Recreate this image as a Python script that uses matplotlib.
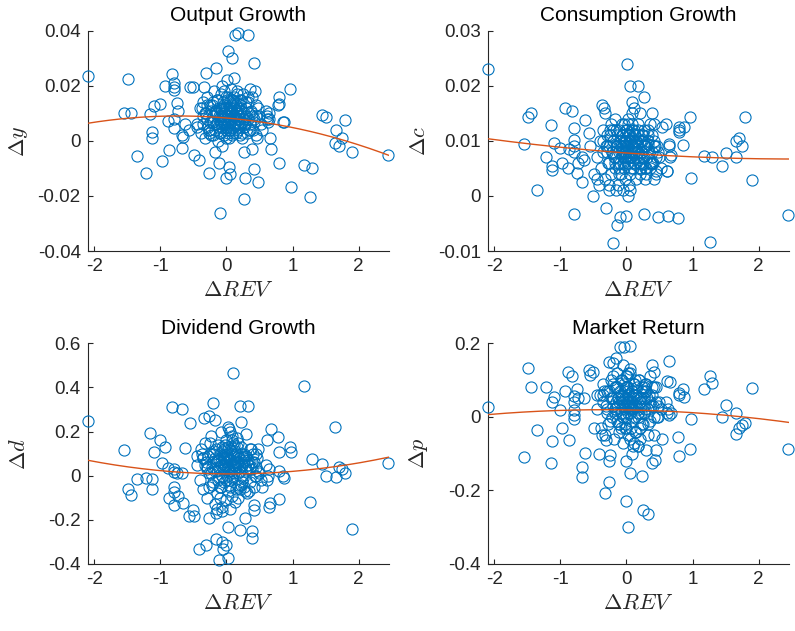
import numpy as np
import matplotlib
matplotlib.use('Agg')
import matplotlib.pyplot as plt

plt.rcParams['font.family'] = ['Liberation Sans', 'DejaVu Sans']
plt.rcParams['mathtext.fontset'] = 'cm'

# shared regressor (outlying points, then the dense core)
rev_outer = [-2.10, -1.55, -1.49, -1.44, -1.36, -1.22, -1.15, -1.13, -1.12, -1.10,
             -1.00, -0.97, -0.93, -0.88, -0.87, -0.82, -0.80, -0.80, -0.80, -0.80,
             -0.79, -0.75, -0.73, -0.68, -0.67, -0.65, -0.63, -0.56, -0.55, -0.51,
             -0.49, -0.45, -0.41, -0.37, -0.34, -0.32, -0.31, -0.27, -0.26, -0.25,
             -0.20, -0.17, -0.16, -0.14, -0.12, -0.10, -0.07, -0.05, -0.04, 0.00,
             0.00, 0.005, 0.02, 0.03, 0.04, 0.05, 0.06, 0.06, 0.08, 0.10,
             0.13, 0.17, 0.18, 0.20, 0.20, 0.22, 0.23, 0.25, 0.26, 0.27,
             0.28, 0.32, 0.33, 0.38, 0.38, 0.41, 0.42, 0.43, 0.45, 0.47,
             0.48, 0.54, 0.60, 0.61, 0.62, 0.63, 0.64, 0.65, 0.66, 0.67,
             0.78, 0.79, 0.79, 0.80, 0.85, 0.87, 0.96, 0.97, 1.18, 1.27,
             1.29, 1.45, 1.51, 1.65, 1.66, 1.71, 1.75, 1.79, 1.90, 2.44]
rev_core = [-0.44, -0.40, -0.38, -0.36, -0.35, -0.33, -0.30, -0.29, -0.28, -0.24,
            -0.23, -0.22, -0.21, -0.19, -0.18, -0.17, -0.15, -0.14, -0.13, -0.12,
            -0.11, -0.10, -0.09, -0.08, -0.08, -0.07, -0.06, -0.05, -0.04, -0.03,
            -0.03, -0.02, -0.01, 0.00, 0.01, 0.01, 0.02, 0.03, 0.04, 0.05,
            0.06, 0.07, 0.08, 0.09, 0.10, 0.11, 0.12, 0.13, 0.14, 0.15,
            0.16, 0.17, 0.19, 0.20, 0.21, 0.22, 0.24, 0.25, 0.27, 0.29,
            0.30, 0.31, 0.33, 0.35, 0.36, 0.38, 0.40, 0.42, 0.44, 0.46,
            0.49, 0.52, -0.26, -0.16, 0.02, 0.12, -0.06, 0.08, 0.18, 0.28]
rev_core2 = [-0.31, -0.27, -0.25, -0.22, -0.20, -0.18, -0.16, -0.14, -0.12, -0.10,
             -0.09, -0.07, -0.06, -0.05, -0.04, -0.02, -0.01, 0.00, 0.01, 0.02,
             0.03, 0.04, 0.05, 0.06, 0.07, 0.08, 0.09, 0.10, 0.11, 0.12,
             0.13, 0.14, 0.15, 0.16, 0.18, 0.19, 0.21, 0.23, 0.24, 0.26,
             0.28, 0.30, 0.32, 0.34, 0.37, 0.39, 0.41, 0.44, -0.35, -0.29,
             -0.21, -0.13, -0.03, 0.03, 0.07, 0.11, 0.17, 0.22, 0.27, 0.35]

dy_outer = [0.0235, 0.0100, 0.0225, 0.0100, -0.0054, -0.0118, 0.0097, 0.0033, 0.0011, 0.0128,
            0.0134, -0.0072, 0.0200, 0.0073, -0.0034, 0.0243, 0.0210, 0.0195, 0.0185, 0.0081,
            0.0045, 0.0136, 0.0110, -0.0027, 0.0020, 0.0015, 0.0060, 0.0040, 0.0197, 0.0195,
            -0.0050, 0.0050, -0.0070, 0.0120, 0.0195, 0.0100, 0.0247, 0.0030, -0.0116, 0.0070,
            0.0140, -0.0040, 0.0263, 0.0100, -0.0082, -0.0263, 0.0080, 0.0120, 0.0060, -0.0136,
            0.0050, 0.0150, 0.0327, 0.0100, -0.0094, -0.0120, 0.0120, 0.0040, 0.0300, 0.0090,
            0.0384, 0.0392, 0.0120, 0.0060, 0.0100, 0.0150, 0.0030, 0.0080, -0.0040, -0.0210,
            -0.0136, 0.0384, 0.0160, 0.0090, -0.0030, 0.0284, -0.0103, 0.0180, 0.0020, 0.0120,
            -0.0150, 0.0040, 0.0110, 0.0080, 0.0090, 0.0070, 0.0100, 0.0080, 0.0010, -0.0028,
            0.0130, -0.0082, 0.0158, 0.0134, 0.0070, 0.0070, 0.0187, -0.0167, -0.0086, -0.0203,
            -0.0100, 0.0094, 0.0085, -0.0007, 0.0040, -0.0017, 0.0010, 0.0076, -0.0039, -0.0051]
dy_core = [0.006, 0.012, 0.003, 0.009, 0.014, 0.001, 0.008, 0.016, 0.005, 0.011,
           0.002, 0.013, 0.007, 0.018, 0.004, 0.010, 0.006, 0.015, 0.000, 0.009,
           0.012, 0.003, 0.017, 0.007, 0.011, 0.005, 0.020, 0.008, 0.002, 0.013,
           0.010, 0.006, 0.016, 0.004, 0.009, 0.022, 0.007, 0.012, 0.001, 0.014,
           0.008, 0.019, 0.005, 0.011, 0.003, 0.016, 0.009, 0.006, 0.013, 0.010,
           0.018, 0.004, 0.008, 0.015, 0.002, 0.011, 0.007, 0.017, 0.005, 0.012,
           0.009, 0.003, 0.014, 0.006, 0.019, 0.010, 0.004, 0.008, 0.013, 0.001,
           0.009, 0.006, 0.004, 0.011, 0.007, 0.023, -0.002, 0.015, 0.010, 0.006]
dy_core2 = [0.010, 0.004, 0.013, 0.007, 0.002, 0.011, 0.006, 0.015, 0.008, 0.003,
            0.012, 0.009, 0.005, 0.014, 0.007, 0.010, 0.001, 0.012, 0.006, 0.016,
            0.009, 0.004, 0.011, 0.007, 0.013, 0.002, 0.010, 0.015, 0.006, 0.012,
            0.008, 0.003, 0.011, 0.017, 0.005, 0.009, 0.013, 0.007, 0.001, 0.010,
            0.006, 0.014, 0.008, 0.004, 0.011, 0.016, 0.007, 0.009, 0.006, 0.013,
            0.009, 0.005, 0.018, 0.003, 0.010, 0.014, 0.006, 0.012, 0.008, 0.004]

dc_outer = [0.0231, 0.0095, 0.0143, 0.0150, 0.0011, 0.0070, 0.0129, 0.0047, 0.0055, 0.0097,
            0.0087, 0.0060, 0.0160, 0.0050, 0.0085, 0.0155, -0.0032, 0.0123, 0.0102, 0.0080,
            0.0090, 0.0041, 0.0060, 0.0026, 0.0070, 0.0065, 0.0138, 0.0114, 0.0090, -0.0001,
            0.0040, 0.0030, 0.0020, 0.0165, 0.0160, 0.0150, -0.0022, 0.0090, 0.0010, 0.0120,
            -0.0086, 0.0060, 0.0090, -0.0053, 0.0040, -0.0038, 0.0110, 0.0080, 0.0100, -0.0036,
            0.0120, 0.0240, 0.0130, 0.0070, 0.0020, 0.0010, 0.0200, 0.0080, 0.0150, 0.0090,
            0.0110, 0.0080, 0.0200, 0.0060, 0.0040, 0.0100, 0.0070, 0.0110, -0.0032, 0.0180,
            0.0050, 0.0095, 0.0120, 0.0150, 0.0060, 0.0130, 0.0030, 0.0090, 0.0045, -0.0038,
            0.0080, 0.0125, 0.0130, 0.0045, 0.0045, -0.0036, 0.0090, 0.0095, 0.0070, 0.0075,
            -0.0040, 0.0117, 0.0125, 0.0120, 0.0093, 0.0125, 0.0144, 0.0032, 0.0073, -0.0084,
            0.0070, 0.0055, 0.0078, 0.0070, 0.0099, 0.0106, 0.0090, 0.0144, 0.0029, -0.0035]
dc_core = [0.007, 0.010, 0.005, 0.012, 0.008, 0.003, 0.009, 0.011, 0.006, 0.013,
           0.004, 0.008, 0.010, 0.007, 0.014, 0.005, 0.009, 0.011, 0.002, 0.008,
           0.012, 0.006, 0.010, 0.004, 0.009, 0.013, 0.007, 0.011, 0.005, 0.008,
           0.010, 0.003, 0.012, 0.007, 0.009, 0.006, 0.014, 0.008, 0.010, 0.004,
           0.011, 0.007, 0.009, 0.013, 0.005, 0.008, 0.012, 0.006, 0.010, 0.003,
           0.009, 0.011, 0.007, 0.015, 0.005, 0.008, 0.010, 0.006, 0.012, 0.004,
           0.009, 0.007, 0.011, 0.005, 0.013, 0.008, 0.006, 0.010, 0.004, 0.009,
           0.007, 0.005, 0.002, 0.001, 0.000, 0.016, 0.001, 0.017, 0.013, 0.003]
dc_core2 = [0.009, 0.006, 0.011, 0.008, 0.010, 0.007, 0.012, 0.009, 0.005, 0.010,
            0.008, 0.011, 0.006, 0.009, 0.013, 0.007, 0.010, 0.008, 0.012, 0.006,
            0.009, 0.011, 0.007, 0.010, 0.005, 0.008, 0.012, 0.009, 0.006, 0.011,
            0.008, 0.010, 0.007, 0.009, 0.012, 0.006, 0.010, 0.008, 0.011, 0.007,
            0.009, 0.005, 0.010, 0.008, 0.006, 0.011, 0.009, 0.007, 0.010, 0.008,
            0.012, 0.006, 0.009, 0.011, 0.007, 0.010, 0.008, 0.005, 0.009, 0.006]

dd_outer = [0.249, 0.116, -0.060, -0.088, -0.015, -0.012, 0.192, -0.060, -0.017, 0.109,
            0.162, 0.059, 0.131, 0.033, -0.103, 0.310, -0.133, -0.073, 0.018, 0.030,
            -0.050, 0.010, -0.090, 0.302, 0.010, -0.125, 0.124, -0.183, 0.237, -0.156,
            -0.183, 0.090, -0.334, 0.100, 0.260, 0.050, -0.314, 0.270, -0.050, 0.150,
            0.328, 0.252, -0.288, -0.150, -0.382, -0.100, -0.299, -0.334, 0.050, -0.314,
            0.080, 0.100, -0.375, -0.231, 0.020, -0.150, 0.200, -0.050, 0.100, 0.467,
            0.050, -0.100, 0.150, 0.316, -0.246, 0.245, 0.000, 0.080, -0.050, 0.100,
            -0.193, 0.050, 0.316, -0.284, -0.249, -0.156, -0.133, 0.000, 0.100, 0.020,
            0.120, -0.050, 0.050, 0.162, -0.020, 0.000, -0.140, 0.030, -0.122, 0.211,
            0.177, 0.109, -0.107, 0.020, 0.000, -0.012, 0.131, 0.109, 0.408, -0.121,
            0.077, 0.053, -0.002, 0.219, -0.005, 0.041, 0.030, 0.011, -0.243, 0.056]
dd_core = [0.05, -0.02, 0.12, 0.08, -0.06, 0.15, 0.03, -0.10, 0.09, 0.01,
           0.18, -0.04, 0.06, 0.11, -0.13, 0.02, 0.07, -0.08, 0.14, 0.04,
           -0.01, 0.10, 0.20, -0.05, 0.06, 0.13, -0.16, 0.03, 0.08, -0.03,
           0.12, 0.05, -0.11, 0.16, 0.00, 0.09, -0.07, 0.04, 0.21, 0.07,
           -0.02, 0.11, 0.03, -0.09, 0.15, 0.06, 0.01, -0.12, 0.10, 0.04,
           0.17, -0.04, 0.08, 0.02, -0.06, 0.13, 0.05, -0.01, 0.09, 0.19,
           0.03, -0.08, 0.07, 0.12, -0.03, 0.06, 0.10, -0.05, 0.04, 0.08,
           0.01, -0.02, -0.19, -0.17, 0.22, 0.14, -0.14, 0.18, 0.06, -0.07]
dd_core2 = [0.06, 0.01, 0.10, 0.04, -0.03, 0.08, 0.12, 0.02, 0.07, -0.05,
            0.05, 0.11, 0.00, 0.09, 0.03, 0.14, -0.02, 0.06, 0.10, 0.04,
            0.08, -0.04, 0.12, 0.02, 0.07, 0.16, -0.01, 0.05, 0.09, 0.03,
            0.11, -0.06, 0.06, 0.13, 0.01, 0.08, 0.04, 0.10, -0.03, 0.07,
            0.02, 0.09, 0.05, -0.07, 0.12, 0.03, 0.06, 0.00, 0.08, 0.04,
            0.10, -0.02, 0.07, 0.13, 0.01, 0.05, 0.09, -0.04, 0.06, 0.03]

dp_outer = [0.026, -0.108, 0.132, 0.080, -0.036, 0.080, -0.126, 0.041, -0.067, 0.053,
            0.019, -0.031, 0.069, 0.123, -0.063, 0.112, 0.057, 0.041, 0.019, 0.005,
            -0.007, 0.075, 0.050, -0.135, -0.164, 0.050, -0.097, 0.126, 0.114, 0.123,
            -0.031, 0.060, -0.101, -0.050, 0.070, -0.206, -0.063, -0.176, -0.120, -0.104,
            0.146, 0.020, 0.080, 0.030, -0.020, 0.190, 0.050, 0.000, 0.190, -0.229,
            -0.119, 0.080, 0.030, -0.300, 0.040, -0.060, 0.193, -0.154, 0.020, 0.060,
            0.100, 0.000, -0.080, 0.050, -0.030, 0.030, -0.160, -0.253, 0.010, 0.050,
            0.070, -0.264, -0.020, 0.141, -0.126, 0.123, 0.080, -0.117, -0.090, 0.030,
            0.000, -0.061, 0.040, 0.010, 0.098, 0.020, 0.005, 0.152, 0.096, 0.010,
            -0.054, -0.106, 0.060, 0.065, 0.075, 0.055, -0.088, -0.007, 0.075, 0.112,
            0.093, -0.001, 0.032, -0.046, 0.010, -0.031, -0.022, -0.018, 0.078, -0.088]
dp_core = [0.02, 0.06, -0.03, 0.04, 0.09, -0.05, 0.01, 0.07, -0.02, 0.05,
           0.10, 0.00, 0.03, -0.06, 0.08, 0.02, 0.12, -0.01, 0.05, 0.04,
           -0.04, 0.07, 0.01, 0.10, -0.03, 0.06, 0.03, -0.07, 0.09, 0.02,
           0.05, -0.02, 0.08, 0.00, 0.11, 0.04, -0.05, 0.06, 0.02, 0.13,
           0.01, -0.03, 0.07, 0.04, -0.08, 0.09, 0.03, 0.00, 0.06, -0.04,
           0.05, 0.02, 0.10, -0.06, 0.04, 0.01, 0.08, -0.02, 0.03, 0.07,
           -0.09, 0.05, 0.02, 0.11, -0.01, 0.06, 0.03, -0.05, 0.08, 0.00,
           0.04, 0.02, 0.15, 0.16, 0.12, -0.07, 0.14, -0.10, -0.08, 0.09]
dp_core2 = [0.03, 0.07, -0.01, 0.05, 0.09, 0.01, 0.04, 0.08, -0.02, 0.06,
            0.02, 0.10, 0.04, 0.00, 0.07, 0.03, 0.11, -0.03, 0.05, 0.08,
            0.01, 0.06, 0.03, 0.12, -0.01, 0.04, 0.07, 0.02, 0.09, 0.05,
            -0.04, 0.06, 0.03, 0.08, 0.01, 0.10, 0.04, -0.02, 0.07, 0.05,
            0.02, 0.09, -0.05, 0.06, 0.03, 0.08, 0.00, 0.04, 0.06, 0.02,
            0.11, 0.05, -0.03, 0.07, 0.03, 0.09, 0.01, 0.05, 0.08, 0.04]

# quadratic fits (c0, c1, c2)
fit_dy = [0.0083, -0.00205, -0.00141]
fit_dc = [0.0078, -0.00087, 0.000173]
fit_dd = [0.008, -0.00165, 0.01327]
fit_dp = [0.0188, -0.00308, -0.00437]

titles = ['Output Growth', 'Consumption Growth', 'Dividend Growth', 'Market Return']
ylabels = [r'$\Delta y$', r'$\Delta c$', r'$\Delta d$', r'$\Delta p$']
yticks = [[-0.04, -0.02, 0, 0.02, 0.04], [-0.01, 0, 0.01, 0.02, 0.03],
          [-0.4, -0.2, 0, 0.2, 0.4, 0.6], [-0.4, -0.2, 0, 0.2]]
yticklabels = [['-0.04', '-0.02', '0', '0.02', '0.04'], ['-0.01', '0', '0.01', '0.02', '0.03'],
               ['-0.4', '-0.2', '0', '0.2', '0.4', '0.6'], ['-0.4', '-0.2', '0', '0.2']]
ylims = [(-0.04, 0.04), (-0.01, 0.03), (-0.4, 0.6), (-0.4, 0.2)]
xticks = [-2, -1, 0, 1, 2]
xlim = (-2.1, 2.46)

x = np.array(rev_outer + rev_core + rev_core2)
ys = [np.array(dy_outer + dy_core + dy_core2), np.array(dc_outer + dc_core + dc_core2),
      np.array(dd_outer + dd_core + dd_core2), np.array(dp_outer + dp_core + dp_core2)]
fits = [fit_dy, fit_dc, fit_dd, fit_dp]

blue = '#0072BD'
red = '#D95319'
dark = '#262626'

fig = plt.figure(figsize=(7.95, 6.31), dpi=100)
pos = [[0.1103, 0.6022, 0.379, 0.3491], [0.6135, 0.6022, 0.379, 0.3491],
       [0.1103, 0.1062, 0.379, 0.3498], [0.6135, 0.1062, 0.379, 0.3498]]

xx = np.linspace(xlim[0], xlim[1], 200)
for i in range(4):
    ax = fig.add_axes(pos[i])
    ax.plot(x, ys[i], 'o', mfc='none', mec=blue, ms=8, mew=0.8, clip_on=False, zorder=3)
    c = fits[i]
    ax.plot(xx, c[0] + c[1] * xx + c[2] * xx ** 2, color=red, lw=1, zorder=4)
    ax.set_xlim(xlim)
    ax.set_ylim(ylims[i])
    ax.set_xticks(xticks)
    ax.set_xticklabels([str(t) for t in xticks])
    ax.set_yticks(yticks[i])
    ax.set_yticklabels(yticklabels[i])
    ax.spines['top'].set_visible(False)
    ax.spines['right'].set_visible(False)
    for s in ['left', 'bottom']:
        ax.spines[s].set_color(dark)
        ax.spines[s].set_linewidth(0.8)
    ax.tick_params(direction='in', length=3.5, width=0.8, colors=dark,
                   labelsize=13.6, pad=5)
    ax.set_title(titles[i], fontsize=15, pad=7, color='black')
    ax.set_xlabel(r'$\Delta REV$', fontsize=16, color=dark)
    ax.set_ylabel(ylabels[i], fontsize=16, color=dark)
    ax.xaxis.set_label_coords(0.5, -0.13)
    ax.yaxis.set_label_coords(-0.19, 0.5)

fig.savefig('out.png', dpi=100)
